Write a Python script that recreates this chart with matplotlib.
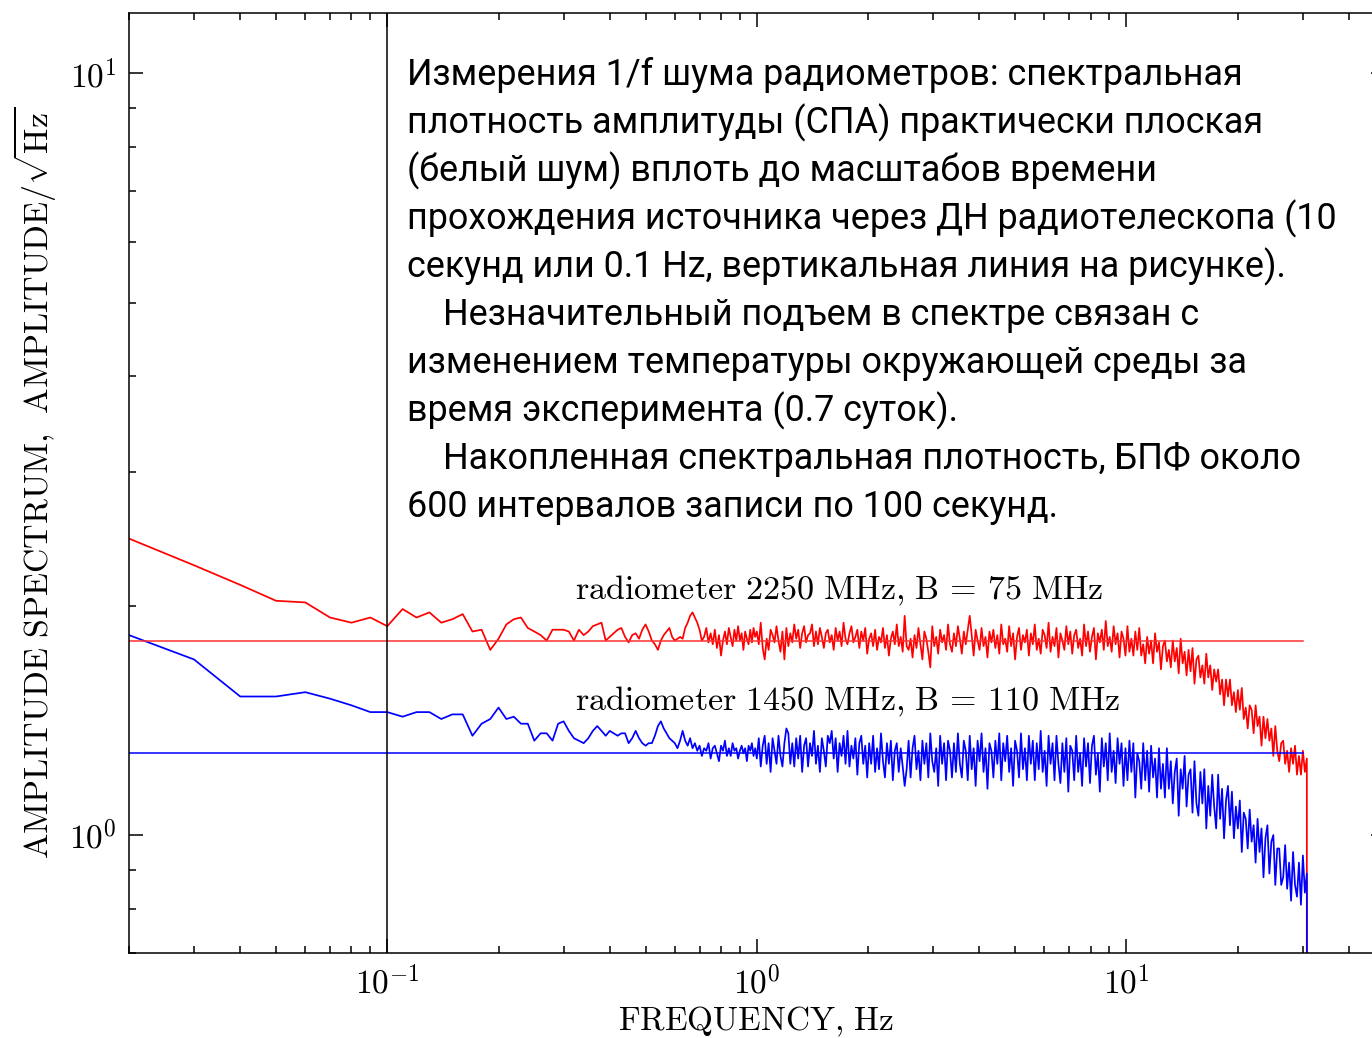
import numpy as np
import matplotlib
matplotlib.use("Agg")
import matplotlib.pyplot as plt
from matplotlib.ticker import FixedLocator, FuncFormatter, NullFormatter, LogLocator

plt.rcParams['mathtext.fontset'] = 'cm'

# частоты: до 1 Гц шаг 0.01, выше - логарифмическая сетка, последний отсчет - срез
freq_low = np.arange(2, 100) / 100
freq_high = np.geomspace(1.0, 30.8, 280)
f_cut = 30.8
cut_value = 0.3

red_low = [
    2.45, 2.26, 2.13, 2.03, 2.02, 1.93, 1.90, 1.93, 1.88, 1.98,
    1.93, 1.96, 1.90, 1.92, 1.95, 1.85, 1.86, 1.75, 1.81, 1.89,
    1.92, 1.93, 1.87, 1.85, 1.83, 1.80, 1.86, 1.86, 1.86, 1.85,
    1.80, 1.86, 1.83, 1.85, 1.88, 1.89, 1.90, 1.80,
    1.82, 1.84, 1.86, 1.87, 1.82, 1.79, 1.83, 1.84, 1.81, 1.86,
    1.89, 1.85, 1.80, 1.78, 1.75, 1.80, 1.83, 1.85, 1.87, 1.82,
    1.80, 1.81, 1.82, 1.81, 1.87, 1.90, 1.94, 1.96, 1.93, 1.90,
    1.86, 1.80, 1.82, 1.87, 1.79, 1.84, 1.78, 1.86, 1.76, 1.83,
    1.72, 1.80, 1.85, 1.78, 1.87, 1.82, 1.77, 1.86, 1.80, 1.88,
    1.80, 1.84, 1.75, 1.85, 1.81, 1.78, 1.86, 1.79, 1.87, 1.82,
]
red_high = [
    1.85, 1.78, 1.90, 1.76, 1.70, 1.81, 1.75, 1.86, 1.83, 1.79, 1.88, 1.80, 1.74, 1.85, 1.70, 1.87, 1.77, 1.84, 1.79, 1.89,
    1.81, 1.86, 1.76, 1.84, 1.88, 1.79, 1.83, 1.84, 1.89, 1.77, 1.85, 1.78, 1.87, 1.82, 1.76, 1.84, 1.86, 1.79, 1.83, 1.75,
    1.87, 1.80, 1.85, 1.77, 1.90, 1.81, 1.78, 1.84, 1.88, 1.79, 1.82, 1.86, 1.76, 1.85, 1.80, 1.87, 1.73, 1.81, 1.84, 1.77,
    1.86, 1.75, 1.82, 1.79, 1.87, 1.76, 1.83, 1.72, 1.81, 1.85, 1.78, 1.89, 1.77, 1.82, 1.74, 1.94, 1.77, 1.75, 1.81, 1.71,
    1.83, 1.76, 1.87, 1.78, 1.70, 1.85, 1.81, 1.74, 1.66, 1.88, 1.77, 1.82, 1.73, 1.86, 1.79, 1.83, 1.75, 1.89, 1.78, 1.74,
    1.84, 1.77, 1.88, 1.81, 1.73, 1.85, 1.78, 1.86, 1.94, 1.83, 1.72, 1.86, 1.80, 1.75, 1.87, 1.77, 1.82, 1.71, 1.85, 1.79,
    1.86, 1.76, 1.83, 1.73, 1.89, 1.78, 1.81, 1.74, 1.88, 1.77, 1.84, 1.70, 1.82, 1.87, 1.75, 1.83, 1.79, 1.86, 1.72, 1.84,
    1.78, 1.89, 1.75, 1.81, 1.73, 1.86, 1.83, 1.76, 1.90, 1.74, 1.82, 1.77, 1.87, 1.71, 1.84, 1.80, 1.75, 1.88, 1.78, 1.85,
    1.73, 1.83, 1.86, 1.76, 1.81, 1.72, 1.89, 1.77, 1.85, 1.74, 1.82, 1.87, 1.70, 1.84, 1.79, 1.86, 1.75, 1.91, 1.77, 1.82,
    1.74, 1.88, 1.78, 1.84, 1.71, 1.85, 1.81, 1.72, 1.88, 1.74, 1.81, 1.72, 1.85, 1.75, 1.87, 1.72, 1.78, 1.68, 1.82, 1.73,
    1.80, 1.68, 1.84, 1.74, 1.79, 1.65, 1.77, 1.80, 1.69, 1.75, 1.66, 1.80, 1.69, 1.76, 1.63, 1.81, 1.68, 1.74, 1.62, 1.75,
    1.64, 1.76, 1.58, 1.70, 1.72, 1.61, 1.67, 1.58, 1.73, 1.61, 1.67, 1.55, 1.65, 1.59, 1.65, 1.53, 1.60, 1.48, 1.60, 1.52,
    1.60, 1.48, 1.54, 1.45, 1.55, 1.46, 1.56, 1.42, 1.47, 1.38, 1.48, 1.46, 1.36, 1.48, 1.39, 1.43, 1.31, 1.43, 1.34, 1.42,
    1.33, 1.38, 1.27, 1.39, 1.29, 1.25, 1.32, 1.33, 1.24, 1.29, 1.21, 1.30, 1.24, 1.31, 1.20, 1.27, 1.20, 1.29, 1.21, 1.26,
]

blue_low = [
    1.83, 1.70, 1.52, 1.52, 1.54, 1.51, 1.48, 1.45, 1.45, 1.43,
    1.45, 1.45, 1.42, 1.44, 1.44, 1.35, 1.40, 1.42, 1.47, 1.42,
    1.43, 1.40, 1.40, 1.33, 1.36, 1.36, 1.33, 1.40, 1.41, 1.37,
    1.34, 1.33, 1.32, 1.34, 1.37, 1.39, 1.37, 1.35, 1.37, 1.36,
    1.35, 1.36, 1.36, 1.32, 1.34, 1.37, 1.34, 1.32, 1.31, 1.32,
    1.32, 1.35, 1.39, 1.41, 1.38, 1.36, 1.34, 1.33, 1.32, 1.30,
    1.33, 1.37, 1.33, 1.31, 1.34,
    1.30, 1.32, 1.29, 1.31, 1.27, 1.30, 1.29, 1.32, 1.26, 1.30,
    1.31, 1.28, 1.25, 1.31, 1.29, 1.33, 1.27, 1.30, 1.27, 1.32,
    1.29, 1.30, 1.26, 1.29, 1.31, 1.28, 1.30, 1.25, 1.31, 1.29,
    1.32, 1.27, 1.30,
]
blue_high = [
    1.26, 1.34, 1.23, 1.31, 1.35, 1.24, 1.32, 1.21, 1.34, 1.29, 1.24, 1.35, 1.27, 1.23, 1.32, 1.38, 1.36, 1.24, 1.32, 1.23,
    1.34, 1.26, 1.35, 1.21, 1.31, 1.34, 1.23, 1.32, 1.27, 1.37, 1.24, 1.31, 1.21, 1.34, 1.29, 1.23, 1.35, 1.32, 1.37, 1.26,
    1.34, 1.21, 1.32, 1.27, 1.35, 1.24, 1.37, 1.23, 1.31, 1.26, 1.34, 1.20, 1.32, 1.35, 1.24, 1.31, 1.19, 1.32, 1.24, 1.35,
    1.21, 1.30, 1.22, 1.36, 1.25, 1.19, 1.32, 1.24, 1.33, 1.18, 1.29, 1.32, 1.21, 1.30, 1.23, 1.16, 1.22, 1.33, 1.19, 1.30,
    1.35, 1.22, 1.29, 1.18, 1.33, 1.24, 1.32, 1.19, 1.36, 1.25, 1.21, 1.30, 1.16, 1.35, 1.24, 1.32, 1.18, 1.33, 1.29, 1.19,
    1.32, 1.21, 1.36, 1.24, 1.19, 1.33, 1.29, 1.18, 1.35, 1.22, 1.30, 1.16, 1.33, 1.25, 1.36, 1.21, 1.30, 1.15, 1.32, 1.29,
    1.19, 1.33, 1.24, 1.36, 1.18, 1.32, 1.25, 1.35, 1.21, 1.30, 1.16, 1.33, 1.29, 1.19, 1.36, 1.22, 1.30, 1.18, 1.35, 1.24,
    1.33, 1.18, 1.32, 1.22, 1.37, 1.21, 1.29, 1.16, 1.35, 1.24, 1.32, 1.18, 1.35, 1.24, 1.17, 1.32, 1.21, 1.34, 1.14, 1.31,
    1.29, 1.18, 1.35, 1.21, 1.28, 1.16, 1.34, 1.23, 1.32, 1.17, 1.31, 1.35, 1.20, 1.28, 1.14, 1.34, 1.23, 1.32, 1.18, 1.36,
    1.21, 1.29, 1.17, 1.34, 1.24, 1.32, 1.16, 1.30, 1.18, 1.33, 1.21, 1.32, 1.12, 1.28, 1.25, 1.15, 1.32, 1.18, 1.29, 1.14,
    1.31, 1.19, 1.26, 1.12, 1.30, 1.15, 1.24, 1.12, 1.30, 1.15, 1.25, 1.10, 1.21, 1.26, 1.06, 1.22, 1.15, 1.27, 1.09, 1.20,
    1.22, 1.07, 1.25, 1.10, 1.06, 1.21, 1.10, 1.22, 1.02, 1.16, 1.06, 1.20, 1.09, 1.02, 1.20, 1.05, 1.15, 0.99, 1.11, 1.16,
    1.03, 1.14, 0.99, 1.09, 1.02, 1.11, 0.95, 1.07, 1.05, 0.96, 1.08, 0.98, 1.03, 0.92, 1.05, 0.95, 1.02, 0.88, 0.99, 1.03,
    0.89, 0.98, 1.00, 0.86, 0.96, 0.96, 0.86, 0.88, 0.97, 0.85, 0.92, 0.82, 0.95, 0.86, 0.83, 0.92, 0.81, 0.94, 0.84, 0.89,
]

red_level = 1.80
blue_level = 1.28
level_end = 30.0
beam_freq = 0.1

label_red = r'$\mathrm{radiometer\ 2250\ MHz{,}\ B\,=\,75\ MHz}$'
label_blue = r'$\mathrm{radiometer\ 1450\ MHz{,}\ B\,=\,110\ MHz}$'

note_lines = [
    (0, "Измерения 1/f шума радиометров: спектральная"),
    (0, "плотность амплитуды (СПА) практически плоская"),
    (0, "(белый шум) вплоть до масштабов времени"),
    (0, "прохождения источника через ДН радиотелескопа (10"),
    (0, "секунд или 0.1 Hz, вертикальная линия на рисунке)."),
    (1, "Незначительный подъем в спектре связан с"),
    (0, "изменением температуры окружающей среды за"),
    (0, "время эксперимента (0.7 суток)."),
    (1, "Накопленная спектральная плотность, БПФ около"),
    (0, "600 интервалов записи по 100 секунд."),
]

freq = np.concatenate([freq_low, freq_high, [f_cut]])
red = np.concatenate([red_low, red_high, [cut_value]])
blue = np.concatenate([blue_low, blue_high, [cut_value]])

W, H = 1372, 1038
fig = plt.figure(figsize=(W / 100, H / 100), dpi=100)
ax = fig.add_axes([129 / W, 85 / H, 1255.6 / W, 940 / H])

ax.plot(freq, red, color='#ff0000', lw=1.25)
ax.plot(freq, blue, color='#0000ff', lw=1.25)
ax.plot([freq[0], level_end], [red_level, red_level], color='#ff3030', lw=1.1)
ax.plot([freq[0], level_end], [blue_level, blue_level], color='#0000ff', lw=1.1)
ax.axvline(beam_freq, color='k', lw=1.1)

ax.set_xscale('log')
ax.set_yscale('log')
ax.set_xlim(0.02, 50)
ax.set_ylim(0.7, 12)

ax.yaxis.set_major_locator(FixedLocator([1, 10]))
ax.yaxis.set_minor_locator(LogLocator(base=10, subs=np.arange(2, 10)))
ax.xaxis.set_minor_locator(LogLocator(base=10, subs=np.arange(2, 10)))
fmt = FuncFormatter(lambda v, p: r'$10^{%d}$' % int(round(np.log10(v))))
ax.xaxis.set_major_formatter(fmt)
ax.yaxis.set_major_formatter(fmt)
ax.xaxis.set_minor_formatter(NullFormatter())
ax.yaxis.set_minor_formatter(NullFormatter())

ax.tick_params(which='both', direction='in', top=True, right=True, width=1.1)
ax.tick_params(which='major', length=10, labelsize=24, pad=9)
ax.tick_params(which='minor', length=5)
for s in ax.spines.values():
    s.set_linewidth(1.1)

ax.set_xlabel(r'$\mathrm{FREQUENCY{,}\ Hz}$', fontsize=24)
ax.set_ylabel(r'$\mathrm{AMPLITUDE\ SPECTRUM{,}\ \ AMPLITUDE}/\sqrt{\mathrm{Hz}}$', fontsize=24.4)
ax.xaxis.set_label_coords(0.499, -0.055)
ax.yaxis.set_label_coords(-0.056, 0.5)

ax.text(0.322, 2.04, label_red, fontsize=24.5, va='baseline')
ax.text(0.322, 1.455, label_blue, fontsize=24.5, va='baseline')

for k, (indent, line) in enumerate(note_lines):
    x = (407 + 36 * indent) / W
    y = 1 - (85 + 48 * k) / H
    fig.text(x, y, line, fontsize=25.8, va='baseline', family=['Roboto', 'DejaVu Sans'])

fig.savefig('out.png', dpi=100)
